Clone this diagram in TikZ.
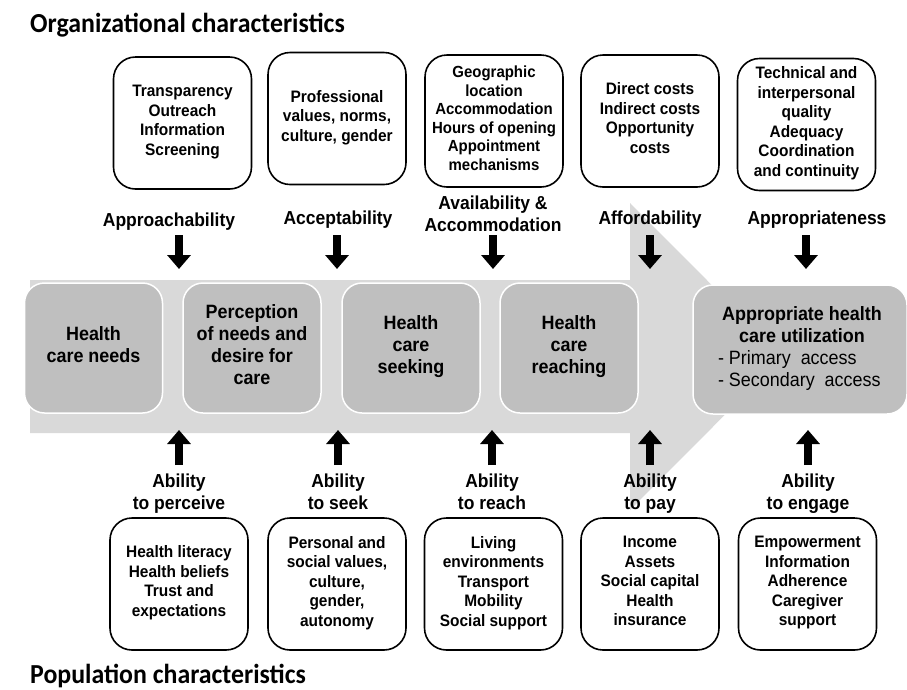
\documentclass[tikz,border=0pt]{standalone}
\usepackage{fontspec}
\setmainfont{Liberation Sans}[FakeStretch=0.93]
\newfontfamily\titlefont{Carlito}[FakeStretch=0.94]
\usetikzlibrary{arrows.meta}
\definecolor{bandgray}{HTML}{D9D9D9}
\definecolor{stagegray}{HTML}{BFBFBF}
\begin{document}
\begin{tikzpicture}[x=1pt,y=-1pt,
  struts/.style={execute at begin node=\strut, execute at end node=\strut},
  stagebox/.style={fill=stagegray, draw=white, line width=1.5pt, rounded corners=20pt,
    minimum width=138pt, minimum height=130pt, align=center, inner sep=0pt, struts,
    font=\fontsize{19.3}{22}\selectfont\bfseries},
  factorbox/.style={draw=black, line width=1.6pt, fill=white, rounded corners=22pt,
    minimum width=138pt, minimum height=132pt, align=center, inner sep=0pt, struts,
    font=\fontsize{16.6}{19.5}\selectfont\bfseries},
  dimlabel/.style={align=center, inner sep=0pt, struts, font=\fontsize{18.8}{22}\selectfont\bfseries},
  fatarrow/.style={line width=8pt, -{Triangle[width=23pt,length=14pt]}},
  heading/.style={anchor=base west, inner sep=0pt, font=\titlefont\fontsize{27.5}{30}\selectfont\bfseries}]

\useasboundingbox (0,0) rectangle (907,689);

% headings
\node[heading] (orgtitle) at (30,32) {Organizational characteristics};
\node[heading] (poptitle) at (30,683) {Population characteristics};

% the broad process arrow
\fill[bandgray] (30,280) -- (630,280) -- (630,203) -- (783,356.5) -- (630,510)
  -- (630,433) -- (30,433) -- cycle;

% stages of access
\node[stagebox] (needs)    at (93.5,348) {Health\\care needs};
\node[stagebox] (perceive) at (252,348)  {Perception\\of needs and\\desire for\\care};
\node[stagebox] (seeking)  at (411,348)  {Health\\care\\seeking};
\node[stagebox] (reaching) at (569,348)  {Health\\care\\reaching};
\node[stagebox, minimum width=214pt, minimum height=129pt] (util) at (800,349.5) {};
\node[align=left, inner sep=0pt, struts, font=\fontsize{19.3}{22}\selectfont] (utiltext) at ([xshift=2pt]util.center)
  {\makebox[168pt]{\bfseries Appropriate health}\\\makebox[168pt]{\bfseries care utilization}\\
   - Primary\ \ access\\- Secondary\ \ access};

% organizational factors
\node[factorbox] (fA) at (182.5,123) {Transparency\\Outreach\\Information\\Screening};
\node[factorbox] (fB) at (337,118.5) {Professional\\values, norms,\\culture, gender};
\node[factorbox, font=\fontsize{16.1}{18.5}\selectfont\bfseries] (fC) at (494,121)
  {Geographic\\location\\Accommodation\\Hours of opening\\Appointment\\mechanisms};
\node[factorbox] (fD) at (650,121) {Direct costs\\Indirect costs\\Opportunity\\costs};
\node[factorbox] (fE) at (806.5,124.5) {Technical and\\interpersonal\\quality\\Adequacy\\Coordination\\and continuity};

% dimensions of accessibility
\node[dimlabel, anchor=base] (dA) at (169,226) {Approachability};
\node[dimlabel, anchor=base] (dB) at (338,224) {Acceptability};
\node[dimlabel] (dC) at (493,217) {Availability \&\\Accommodation};
\node[dimlabel, anchor=base] (dD) at (650,224) {Affordability};
\node[dimlabel, anchor=base] (dE) at (817,224) {Appropriateness};

% abilities of persons
\node[dimlabel] (aA) at (179,495) {Ability\\to perceive};
\node[dimlabel] (aB) at (338,495) {Ability\\to seek};
\node[dimlabel] (aC) at (492,495) {Ability\\to reach};
\node[dimlabel] (aD) at (650,495) {Ability\\to pay};
\node[dimlabel] (aE) at (808,495) {Ability\\to engage};

% population factors
\node[factorbox] (pA) at (179,584) {Health literacy\\Health beliefs\\Trust and\\expectations};
\node[factorbox] (pB) at (337,584) {Personal and\\social values,\\culture,\\gender,\\autonomy};
\node[factorbox] (pC) at (493.5,584) {Living\\environments\\Transport\\Mobility\\Social support};
\node[factorbox] (pD) at (650,584) {Income\\Assets\\Social capital\\Health\\insurance};
\node[factorbox] (pE) at (807.5,584) {Empowerment\\Information\\Adherence\\Caregiver\\support};

% arrow levels
\coordinate (topstart) at (0,235);
\coordinate (topend)   at (0,269);
\coordinate (botstart) at (0,465);
\coordinate (botend)   at (0,430);

% downward arrows from the dimensions
\draw[fatarrow] ([xshift=10pt]dA.south |- topstart) -- ([xshift=10pt]dA.south |- topend);
\draw[fatarrow] ([xshift=-1pt]dB.south |- topstart) -- ([xshift=-1pt]dB.south |- topend);
\draw[fatarrow] (dC.south |- topstart) -- (dC.south |- topend);
\draw[fatarrow] (dD.south |- topstart) -- (dD.south |- topend);
\draw[fatarrow] ([xshift=-11pt]dE.south |- topstart) -- ([xshift=-11pt]dE.south |- topend);

% upward arrows from the abilities
\foreach \a in {aA,aB,aC,aD,aE}
  \draw[fatarrow] (\a |- botstart) -- (\a |- botend);

\end{tikzpicture}
\end{document}
